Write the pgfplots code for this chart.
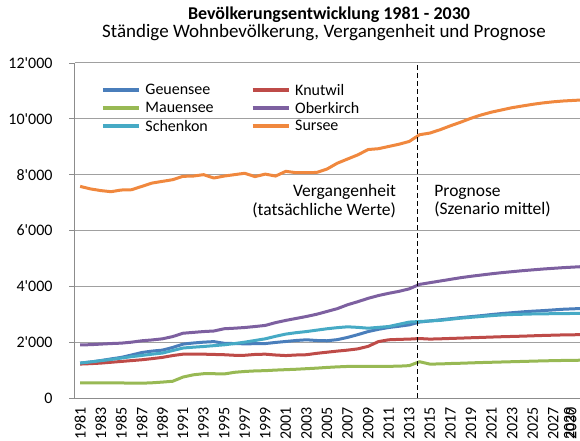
\documentclass[border=0pt]{standalone}
\usepackage{fontspec}
\setmainfont{Carlito}
\usepackage{pgfplots}
\usepackage{pgfplotstable}
\pgfplotsset{compat=1.18}
\definecolor{cGeu}{HTML}{4A7EBB}
\definecolor{cKnu}{HTML}{BE4B48}
\definecolor{cMau}{HTML}{98B954}
\definecolor{cObe}{HTML}{7D60A0}
\definecolor{cSch}{HTML}{46AAC5}
\definecolor{cSur}{HTML}{F0883E}
\definecolor{gridgray}{HTML}{A0A0A0}
\definecolor{axgray}{HTML}{8C8C8C}
\pgfplotstableread{
year Geu Knu Mau Obe Sch Sur
1981 1250 1215 540 1900 1250 7580
1982 1290 1230 540 1910 1290 7490
1983 1340 1250 540 1930 1335 7430
1984 1400 1280 540 1950 1380 7390
1985 1455 1310 540 1965 1430 7450
1986 1540 1340 530 2000 1480 7460
1987 1630 1370 530 2050 1525 7580
1988 1680 1410 545 2080 1570 7700
1989 1715 1455 570 2120 1610 7760
1990 1810 1520 600 2200 1700 7820
1991 1930 1570 750 2320 1790 7940
1992 1970 1575 830 2350 1820 7950
1993 2000 1570 870 2380 1845 8000
1994 2020 1560 870 2400 1875 7880
1995 1960 1550 860 2480 1905 7950
1996 1950 1530 920 2500 1950 8000
1997 1940 1530 950 2525 2000 8050
1998 1945 1560 970 2560 2060 7930
1999 1950 1570 980 2600 2120 8020
2000 1990 1540 1000 2700 2210 7950
2001 2025 1520 1015 2780 2290 8120
2002 2060 1540 1030 2850 2340 8070
2003 2085 1550 1050 2920 2380 8070
2004 2060 1600 1070 3000 2430 8080
2005 2050 1640 1095 3100 2480 8200
2006 2090 1680 1115 3200 2520 8410
2007 2170 1715 1130 3340 2550 8560
2008 2270 1760 1130 3450 2530 8710
2009 2380 1850 1130 3570 2500 8900
2010 2460 2020 1135 3670 2530 8930
2011 2525 2085 1135 3750 2560 9010
2012 2570 2100 1140 3820 2640 9090
2013 2620 2110 1160 3910 2720 9190
2014 2720 2130 1300 4070 2740 9430
2015 2760 2110 1215 4130 2760 9490
2016 2800 2120 1220 4190 2780 9610
2017 2840 2133 1235 4250 2820 9750
2018 2880 2145 1245 4310 2860 9880
2019 2915 2158 1258 4360 2890 10020
2020 2950 2170 1270 4405 2920 10140
2021 2990 2183 1280 4450 2950 10240
2022 3025 2195 1290 4490 2975 10320
2023 3055 2205 1300 4525 2990 10400
2024 3085 2215 1310 4560 3000 10460
2025 3110 2228 1320 4590 3010 10520
2026 3130 2240 1330 4620 3015 10570
2027 3155 2250 1338 4645 3020 10610
2028 3180 2260 1345 4670 3025 10640
2029 3195 2265 1350 4690 3028 10660
2030 3210 2270 1355 4710 3030 10680
}\datatable
\newcommand{\ap}{\textquotesingle}
\begin{document}
\begin{tikzpicture}
\useasboundingbox (-75bp,-43bp) rectangle (505bp,398bp);
\begin{axis}[
  scale only axis,
  width=505bp, height=335bp,
  xmin=1980.5, xmax=2029.6,
  ymin=0, ymax=12000,
  scaled y ticks=false,
  axis x line*=bottom, axis y line*=left,
  axis line style={axgray, line width=1bp},
  xtick={1981,1983,1985,1987,1989,1991,1993,1995,1997,1999,2001,2003,2005,2007,2009,2011,2013,2015,2017,2019,2021,2023,2025,2027,2028.55,2028.75},
  xticklabels={1981,1983,1985,1987,1989,1991,1993,1995,1997,1999,2001,2003,2005,2007,2009,2011,2013,2015,2017,2019,2021,2023,2025,2027,2029,2030},
  xtick style={draw=none},
  minor xtick={1980.5,1981.5,...,2029.5},
  minor tick length=5.5bp,
  minor tick style={axgray, line width=0.8bp},
  xticklabel style={rotate=90, anchor=east},
  ytick={0,2000,4000,6000,8000,10000,12000},
  yticklabels={0,2\ap000,4\ap000,6\ap000,8\ap000,10\ap000,12\ap000},
  yticklabel style={xshift=-13bp},
  ytick style={axgray, line width=0.8bp},
  major tick length=6bp,
  tick align=outside,
  ymajorgrids,
  grid style={gridgray, line width=1bp},
  tick label style={font=\fontsize{16bp}{19bp}\selectfont},
  clip=true,
  legend columns=2,
  legend style={at={(axis description cs:0.045,0.947)}, anchor=north west, draw=none, fill=none,
    font=\fontsize{16bp}{19bp}\selectfont, row sep=3.5bp,
    /tikz/every even column/.append style={column sep=36bp},
    nodes={inner sep=1bp}},
  legend cell align=left,
  legend image code/.code={\draw[#1, line width=4bp] (0bp,0bp) -- (36bp,0bp); \path (40bp,0bp);},
  every axis plot/.append style={line width=3bp, line join=round}
]
\addplot[cGeu] table[x=year,y=Geu] {\datatable};
\addlegendentry{Geuensee}
\addplot[cKnu] table[x=year,y=Knu] {\datatable};
\addlegendentry{Knutwil}
\addplot[cMau] table[x=year,y=Mau] {\datatable};
\addlegendentry{Mauensee}
\addplot[cObe] table[x=year,y=Obe] {\datatable};
\addlegendentry{Oberkirch}
\addplot[cSch] table[x=year,y=Sch] {\datatable};
\addlegendentry{Schenkon}
\addplot[cSur] table[x=year,y=Sur] {\datatable};
\addlegendentry{Sursee}
\draw[black, line width=1.5bp, dash pattern=on 5bp off 3bp] (axis cs:2013.8,0) -- (axis cs:2013.8,12000);
\node[anchor=east, align=right, font=\fontsize{17.5bp}{18.5bp}\selectfont] at (axis cs:2012.05,7050) {Vergangenheit\\(tatsächliche Werte)};
\node[anchor=west, align=left, font=\fontsize{17.5bp}{18.5bp}\selectfont] at (axis cs:2015.1,7050) {Prognose\\(Szenario mittel)};
\end{axis}
\node[font=\bfseries\fontsize{18bp}{21bp}\selectfont] at (254bp,383bp) {Bevölkerungsentwicklung 1981 - 2030};
\node[font=\fontsize{19bp}{22bp}\selectfont] at (249bp,365bp) {Ständige Wohnbevölkerung, Vergangenheit und Prognose};
\end{tikzpicture}
\end{document}
